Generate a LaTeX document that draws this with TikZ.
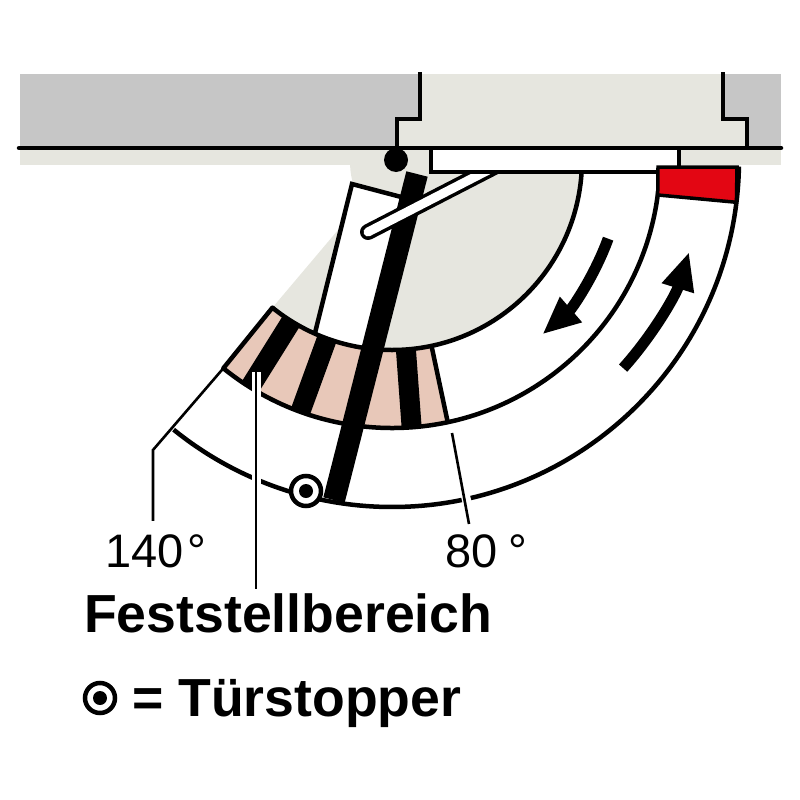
\documentclass[tikz,border=0pt]{standalone}
\usepackage{fontspec}
\setmainfont{Liberation Sans}
\usetikzlibrary{arrows.meta}
\usetikzlibrary{calc}
\definecolor{wallgrey}{HTML}{C6C6C6}
\definecolor{doorbeige}{HTML}{E6E6DF}
\definecolor{bandpink}{HTML}{E8C8B9}
\definecolor{stopred}{HTML}{E30613}
\tikzset{
  edge/.style={line width=4.5pt,black},
  leader/.style={line width=2.6pt,black},
  halo/.style={line width=9pt,white},
  stripe/.style={line width=20pt,black},
  swing/.style={line width=11pt,black,-{Triangle[length=38pt,width=31pt]}},
  small label/.style={inner sep=0pt,anchor=base west,font=\fontsize{47}{50}\selectfont},
  big label/.style={inner sep=0pt,anchor=base west,font=\bfseries\fontsize{53.6}{56}\selectfont},
}
\newcommand{\stopmark}[1]{
\fill[white] (#1) circle (15);
\draw[line width=4.5pt] (#1) circle (15);
\fill (#1) circle (7);
}
\begin{document}
\begin{tikzpicture}[x=1pt,y=-1pt]
\useasboundingbox (0,0) rectangle (800,800);
\coordinate (pivot) at (392,160);
% wall and frame
\fill[wallgrey] (20,74) rectangle (781,148);
\fill[doorbeige] (420,74) -- (420,119) -- (397,119) -- (397,148) -- (747,148) -- (747,119) -- (723,119) -- (723,74) -- cycle;
\fill[doorbeige] (20,148) rectangle (781,165);
\fill[doorbeige] (350,160) .. controls (350,170) and (351,178) .. (354,186) -- (338,230) -- ($(pivot)+(129:190)$) arc[start angle=129,end angle=0,radius=190] -- cycle;
% door leaf
\fill[white] (352,184) -- (405,198) -- (367,350) -- (315,333) -- cycle;
\draw[edge] (315,333) -- (352,184) -- (405,198);
% hold open range
\path[fill=bandpink] ($(pivot)+(78:190)$) arc[start angle=78,end angle=129,radius=190] -- ($(pivot)+(129:268)$) arc[start angle=129,end angle=78,radius=268] -- cycle;
\begin{scope}
\clip ($(pivot)+(78:190)$) arc[start angle=78,end angle=129,radius=190] -- ($(pivot)+(129:268)$) arc[start angle=129,end angle=78,radius=268] -- cycle;
\foreach \a in {122,110,85.8}
  \draw[stripe] (pivot) ++(\a:150) -- ++(\a:160);
\end{scope}
% arcs
\draw[edge] ($(pivot)+(3:190)$) arc[start angle=3,end angle=129,radius=190];
\draw[edge] ($(pivot)+(3:268)$) arc[start angle=3,end angle=129,radius=268];
\draw[edge] ($(pivot)+(1.1:347)$) arc[start angle=1.1,end angle=129,radius=347];
\draw[edge,line cap=round] ($(pivot)+(129:190)$) -- ($(pivot)+(129:268)$);
\draw[edge] ($(pivot)+(78:190)$) -- ($(pivot)+(78:268)$);
% door bar
\draw[line width=22pt] (417,174) -- (334,500);
% arm
\draw[line width=16pt,line cap=round] (502,163) -- (368,232);
\draw[line width=9pt,line cap=round,white] (502,163) -- (368,232);
% closer plate and stop
\draw[edge,fill=white] (431,148) rectangle (679,172);
\draw[line width=3.5pt,fill=stopred] (658,167) -- (737,167) -- ($(pivot)+(7:347)$) -- ($(pivot)+(7.5:268)$) -- cycle;
% frame lines
\draw[edge] (420,72) -- (420,119) -- (397,119) -- (397,148);
\draw[edge] (723,72) -- (723,119) -- (747,119) -- (747,148);
\draw[edge,line cap=round] (19,148) -- (781,148);
\fill (396,160) circle (12);
% swing arrows
\draw[swing] ($(pivot)+(20:230)$) arc[start angle=20,end angle=49,radius=232];
\draw[swing] ($(pivot)+(42:311)$) arc[start angle=42,end angle=17.2,radius=311];
% labels
\node (l140) [small label] at (105,567) {140\kern-9pt\ °};
\node (l80) [small label] at (445,567) {80\kern-2pt\ °};
\node (lfest) [big label] at (84,632) {Feststellbereich};
\node (lstop) [big label] at (132,716) {= Türstopper};
% leaders
\draw[leader] (l140.north west) ++(48,-13) -- ++(0,-71) -- ($(pivot)+(129:268)$);
\draw[halo] (lfest.north west) ++(172,-4) -- ++(0,-217);
\draw[leader] (lfest.north west) ++(172,-4) -- ++(0,-217);
\draw[halo] (l80.north west) ++(24,-24) -- ++(-4,-16);
\draw[leader] (l80.north west) ++(24,-10) -- (452,433);
% door stoppers
\stopmark{306,491}
\stopmark{100,698}
\end{tikzpicture}
\end{document}
